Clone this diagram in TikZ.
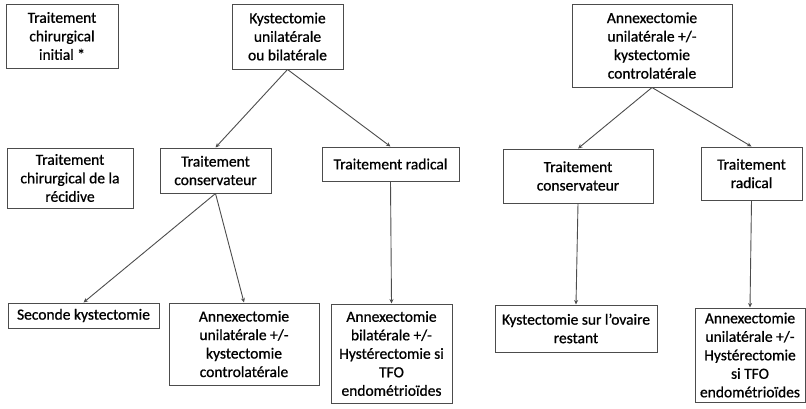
\documentclass[tikz,border=0pt]{standalone}
\usepackage{fontspec}
\setmainfont{Carlito}[RawFeature={embolden=0.8}]
\usetikzlibrary{arrows.meta}

\begin{document}
\begin{tikzpicture}[x=1pt, y=-1pt,
    box/.style = {draw = black!70, line width = 1pt, fill = white, align = center,
      inner sep = 0pt, font = \fontsize{15.5}{18.5}\selectfont},
    arr/.style = {draw = black!70, line width = 0.9pt, -{Stealth[length = 4.5pt, width = 4pt]}}
  ]

  \useasboundingbox (0, 0) rectangle (806, 408);

  % left part
  \node[box, minimum width = 112pt, minimum height = 64pt] (init) at (62, 36)
    {Traitement\\chirurgical\\initial *};
  \node[box, minimum width = 126pt, minimum height = 60pt] (recid) at (70, 178)
    {Traitement\\chirurgical de la\\récidive};

  \node[box, minimum width = 111pt, minimum height = 65pt] (kyst) at (287.5, 36.5)
    {Kystectomie\\unilatérale\\ou bilatérale};
  \node[box, minimum width = 111pt, minimum height = 45pt] (cons) at (215.5, 170.5)
    {Traitement\\conservateur};
  \node[box, minimum width = 137pt, minimum height = 34pt] (rad) at (390.5, 164)
    {Traitement radical};
  \node[box, minimum width = 151pt, minimum height = 25pt] (sec) at (83.5, 315.5)
    {Seconde kystectomie};
  \node[box, minimum width = 150pt, minimum height = 82pt] (annuni) at (244, 344)
    {Annexectomie\\unilatérale +/-\\kystectomie\\controlatérale};
  \node[box, minimum width = 121pt, minimum height = 99pt] (annbil) at (391.5, 353.5)
    {Annexectomie\\bilatérale +/-\\Hystérectomie si\\TFO\\endométrioïdes};

  % right part
  \node[box, minimum width = 160pt, minimum height = 83pt] (annex) at (652, 45.5)
    {Annexectomie\\unilatérale +/-\\kystectomie\\controlatérale};
  \node[box, minimum width = 150pt, minimum height = 54pt] (consr) at (578, 176)
    {Traitement\\conservateur};
  \node[box, minimum width = 101pt, minimum height = 53pt] (radr) at (751.5, 173.5)
    {Traitement\\radical};
  \node[box, minimum width = 162pt, minimum height = 47pt] (ovaire) at (576, 328.5)
    {Kystectomie sur l’ovaire\\restant};
  \node[box, minimum width = 110pt, minimum height = 94pt] (annhyst) at (750, 355)
    {Annexectomie\\unilatérale +/-\\Hystérectomie\\si TFO\\endométrioïdes};

  \draw[arr] (kyst.south) -- (cons.north);
  \draw[arr] (kyst.south) -- (rad.north);
  \draw[arr] (cons.south) -- (sec.north);
  \draw[arr] (cons.south) -- (annuni.north);
  \draw[arr] (rad.south) -- (annbil.north);

  \draw[arr] (annex.south) -- (consr.north);
  \draw[arr] (annex.south) -- (radr.north);
  \draw[arr] (consr.south) -- (ovaire.north);
  \draw[arr] (radr.south) -- (annhyst.north);

\end{tikzpicture}
\end{document}
